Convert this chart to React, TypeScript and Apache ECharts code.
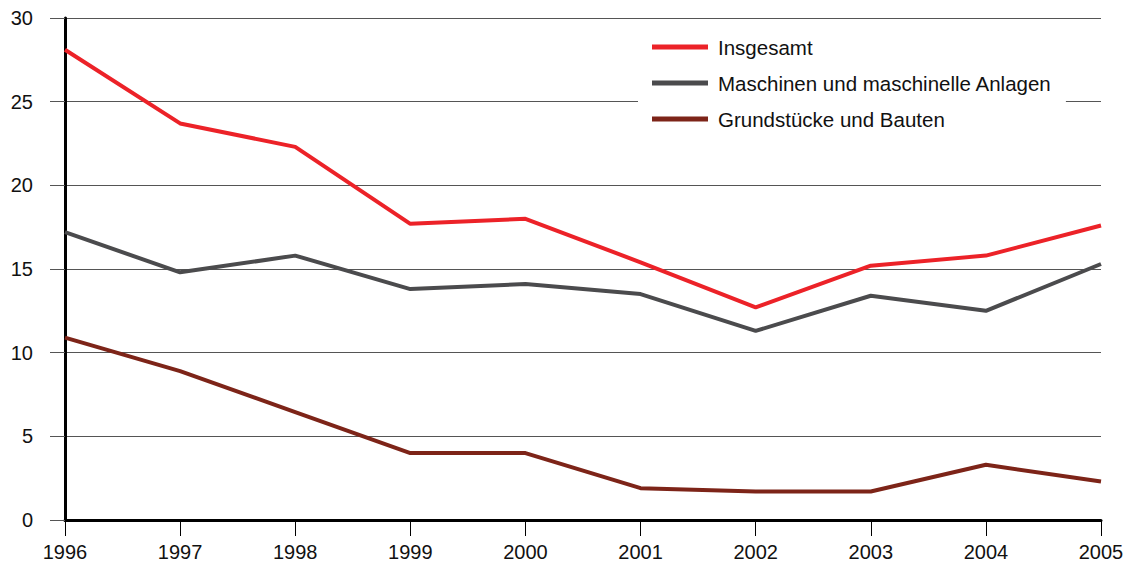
import React, { useEffect, useRef } from "react";
import * as echarts from "echarts";

const years = ["1996", "1997", "1998", "1999", "2000", "2001", "2002", "2003", "2004", "2005"];
const insgesamt = [28.1, 23.7, 22.3, 17.7, 18.0, 15.4, 12.7, 15.2, 15.8, 17.6];
const maschinen = [17.2, 14.8, 15.8, 13.8, 14.1, 13.5, 11.3, 13.4, 12.5, 15.3];
const grundstuecke = [10.9, 8.9, 6.45, 4.0, 4.0, 1.9, 1.7, 1.7, 3.3, 2.3];

const seriesNames = ["Insgesamt", "Maschinen und maschinelle Anlagen", "Grundstücke und Bauten"];
const colors = ["#ec2228", "#4b4b4d", "#7d2418"];

export default function App() {
  const ref = useRef<HTMLDivElement>(null);
  useEffect(() => {
    if (!ref.current) return;
    const chart = echarts.init(ref.current, null, { renderer: "svg" });
    const font = "'Liberation Sans', Arial, sans-serif";
    const datasets = [insgesamt, maschinen, grundstuecke];
    chart.setOption({
      animation: false,
      backgroundColor: "#ffffff",
      textStyle: { fontFamily: font },
      grid: { left: 65, right: 28, top: 18, bottom: 50, containLabel: false },
      legend: {
        orient: "vertical",
        left: 638,
        top: 28,
        backgroundColor: "#ffffff",
        padding: [8, 14, 8, 14],
        itemWidth: 56,
        itemHeight: 5,
        itemGap: 14,
        icon: "rect",
        textStyle: { fontSize: 20.5, color: "#111", fontFamily: font, padding: [0, 0, 0, 5], lineHeight: 22 },
        data: seriesNames,
      },
      xAxis: {
        type: "category",
        data: years,
        boundaryGap: false,
        axisLine: { lineStyle: { color: "#000", width: 3 } },
        axisTick: { show: true, length: 16, lineStyle: { color: "#000", width: 1 } },
        axisLabel: { color: "#111", fontSize: 20, margin: 22, fontFamily: font },
        splitLine: { show: false },
      },
      yAxis: {
        type: "value",
        min: 0,
        max: 30,
        interval: 5,
        axisLine: { show: true, lineStyle: { color: "#000", width: 3 } },
        axisTick: { show: true, length: 15, lineStyle: { color: "#555", width: 1 } },
        axisLabel: { color: "#111", fontSize: 20, margin: 32, fontFamily: font },
        splitLine: { show: true, lineStyle: { color: "#555", width: 1 } },
      },
      series: seriesNames.map((name, i) => ({
        name,
        type: "line",
        data: datasets[i],
        symbol: "none",
        lineStyle: { color: colors[i], width: 4 },
        itemStyle: { color: colors[i] },
        z: 3 - i + 2,
      })),
    });
    return () => chart.dispose();
  }, []);
  return (
    <div
      ref={ref}
      style={{ position: "fixed", left: 0, top: 0, width: 1129, height: 570 }}
    />
  );
}
